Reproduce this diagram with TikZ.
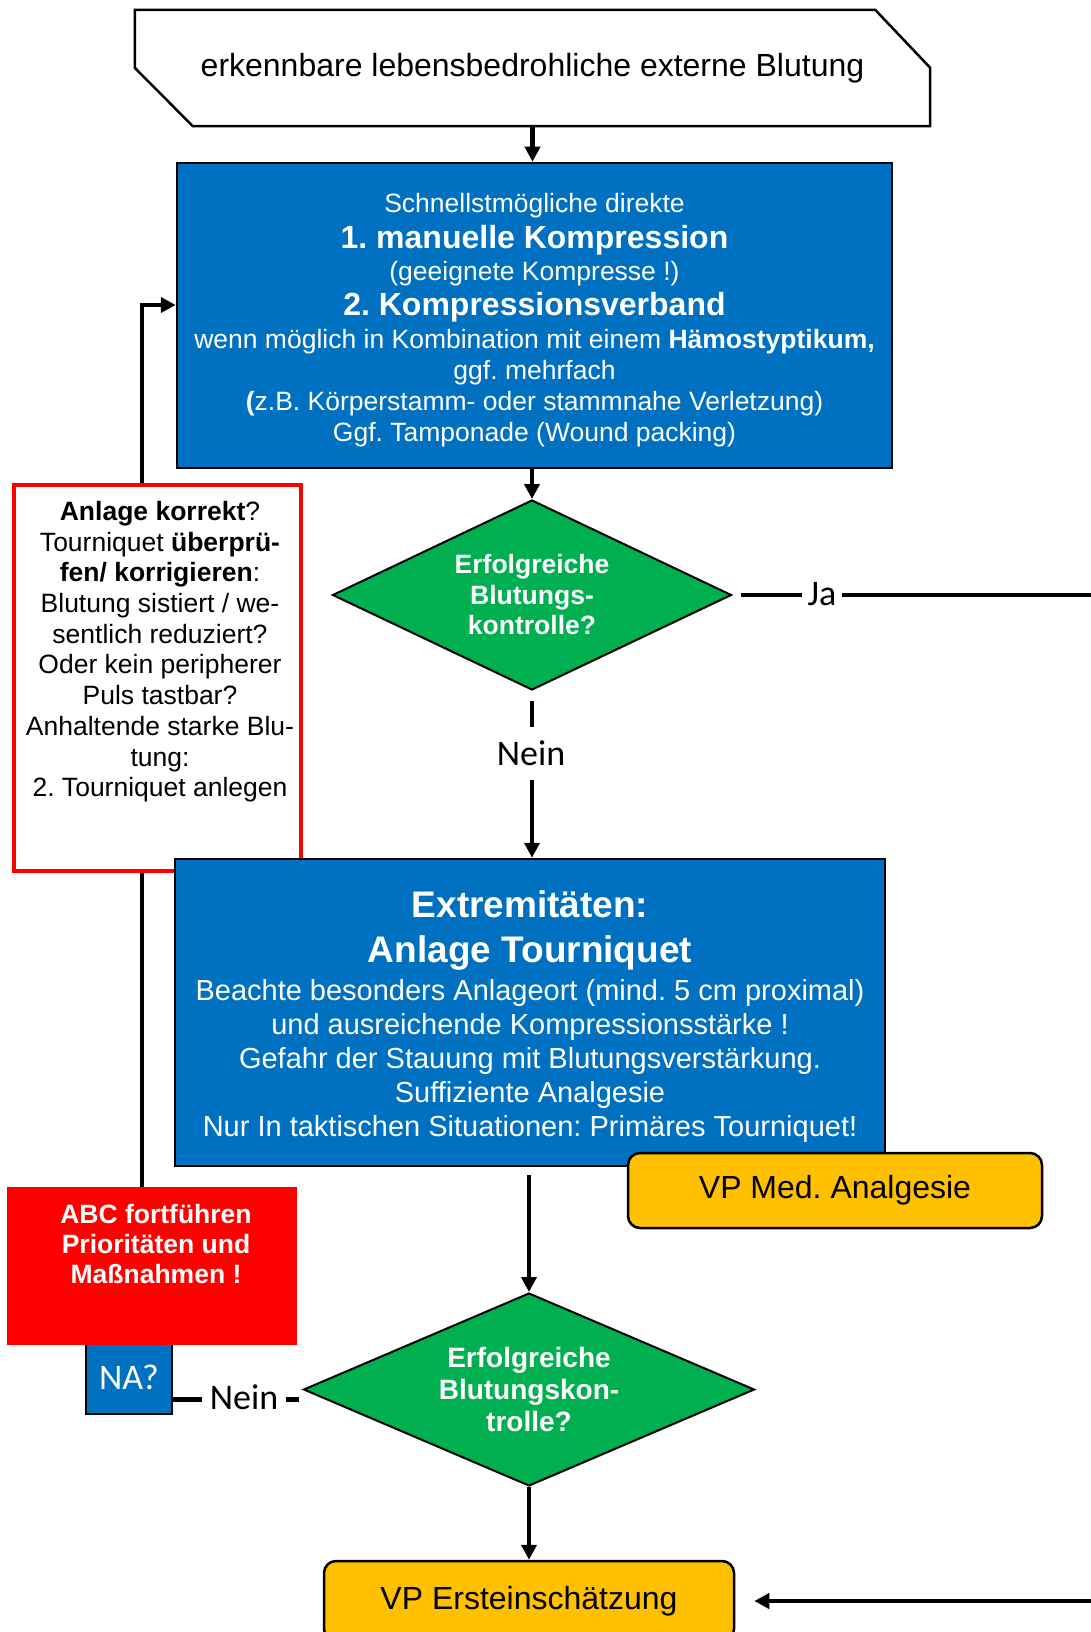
\documentclass[tikz,border=0pt]{standalone}
\usepackage{fontspec}
\setmainfont{Liberation Sans}
\newfontfamily\calfont{Carlito}
\usetikzlibrary{arrows.meta,calc,shapes.geometric}
\pgfdeclarelayer{bg}
\pgfsetlayers{bg,main}
\definecolor{pblue}{HTML}{0070C0}
\definecolor{pgreen}{HTML}{00B050}
\definecolor{pyellow}{HTML}{FFC000}
\definecolor{pred}{HTML}{FF0000}
\newcommand{\setfs}[2]{\fontsize{#1}{#2}\selectfont}
\frenchspacing
\tikzset{
  conn/.style={line width=4.5pt, -{Triangle[length=15pt,width=15pt]}},
  plainline/.style={line width=4.5pt},
  bluebox/.style={rectangle, draw=black, line width=2.5pt, fill=pblue, text=white, align=center, inner sep=0pt},
  boxtext/.style={text=white, align=center, inner sep=0pt},
  dec/.style={diamond, draw=black, line width=2pt, fill=pgreen, text=white, align=center, inner sep=0pt},
  vpbox/.style={rectangle, rounded corners=12pt, draw=black, line width=2.5pt, fill=pyellow, inner sep=0pt},
  lbl/.style={fill=white, font=\calfont\setfs{36}{40}, inner xsep=5pt, inner ysep=3pt},
}
\begin{document}
\begin{tikzpicture}[x=1pt,y=-1pt]
\useasboundingbox (0,0) rectangle (1090,1632);
\begin{pgfonlayer}{bg}
\fill[white] (0,0) rectangle (1090,1632);
\end{pgfonlayer}

% start shape
\node[font=\setfs{32}{37}, minimum width=795, minimum height=116, inner sep=0pt] (start) at (532.5,68) {erkennbare lebensbedrohliche externe Blutung};
\draw[line width=2.5pt] (start.north west) -- ($(start.north east)+(-55,0)$) -- ($(start.north east)+(0,58)$) -- (start.south east) -- ($(start.south west)+(58,0)$) -- ($(start.north west)+(0,58)$) -- cycle;

% first blue box
\node[bluebox, minimum width=715, minimum height=305] (box1) at (534.5,315.5) {};
\node[boxtext, font=\setfs{26.5}{31}] (box1text) at (534.5,320) {Schnellstmögliche direkte\\[5pt]
{\setfs{32}{31}\bfseries 1. manuelle Kompression}\\[1pt]
(geeignete Kompresse !)\\[4pt]
{\setfs{32}{31}\bfseries 2. Kompressionsverband}\\[2pt]
wenn möglich in Kombination mit einem \textbf{Hämostyptikum,}\\
ggf. mehrfach\\
\textbf{(}z.B. Körperstamm- oder stammnahe Verletzung)\\
Ggf. Tamponade (Wound packing)};

% first decision
\node[dec, aspect=2.1, minimum width=399, minimum height=190, font=\setfs{26.5}{30.5}\bfseries] (d1) at (532,595) {Erfolgreiche\\Blutungs-\\kontrolle?};

% red check box
\node[draw=pred, line width=3.5pt, fill=white, minimum width=287, minimum height=386, inner sep=0pt] (chk) at (157.5,678) {};
\node[anchor=north, align=center, font=\setfs{26.5}{30.7}, inner sep=0pt] (chktext) at (160,501) {\textbf{Anlage korrekt}?\\
Tourniquet \textbf{überprü-}\\
\textbf{fen/ korrigieren}:\\
Blutung sistiert / we-\\
sentlich reduziert?\\
Oder kein peripherer\\
Puls tastbar?\\
Anhaltende starke Blu-\\
tung:\\
2. Tourniquet anlegen};

% second blue box
\node[bluebox, minimum width=710, minimum height=307] (box2) at (530,1012.5) {};
\node[boxtext, font=\setfs{29}{34}] (box2text) at (530,1016.5) {{\setfs{37}{34}\bfseries Extremitäten:}\\[11pt]
{\setfs{37}{34}\bfseries Anlage Tourniquet}\\[4pt]
Beachte besonders Anlageort (mind. 5 cm proximal)\\
und ausreichende Kompressionsstärke !\\
Gefahr der Stauung mit Blutungsverstärkung.\\
Suffiziente Analgesie\\
Nur In taktischen Situationen: Primäres Tourniquet!};

\node[vpbox, minimum width=414, minimum height=75, font=\setfs{32}{36}] (vpm) at (835,1190.5) {\raisebox{-3pt}{VP Med. Analgesie}};

% NA and ABC
\node[fill=pblue, draw=black, line width=2pt, minimum width=86, minimum height=73, text=white, font=\calfont\setfs{36}{40}, inner sep=0pt] (na) at (129,1377) {NA?};
\node[fill=pred, minimum width=290, minimum height=158, inner sep=0pt] (abc) at (152,1266) {};
\node[anchor=north, align=center, text=white, font=\setfs{26.5}{30}\bfseries, inner sep=0pt] (abctext) at (156,1204) {ABC fortführen\\Prioritäten und\\Maßnahmen !};

% second decision
\node[dec, aspect=2.3, minimum width=451, minimum height=193, font=\setfs{28}{32}\bfseries] (d2) at (529,1389.5) {Erfolgreiche\\Blutungskon-\\trolle?};

% final box
\node[vpbox, minimum width=410, minimum height=80, font=\setfs{32}{36}] (vpe) at (529,1601) {VP Ersteinschätzung};

% helper coordinates
\coordinate (loopx) at (142,305);
\coordinate (far) at (1098,0);

% connectors
\draw[conn] (start.south) -- (start.south |- box1.north);
\draw[conn] (d1.north |- box1.south) -- (d1.north);
\draw[conn, shorten <=10pt] (d1.south) -- (d1.south |- box2.north);
\node[lbl, inner ysep=14pt] (nein1) at (531,753) {Nein};
\draw[conn, shorten <=8pt, shorten >=19pt] (d1.east) -- (d1.east -| far) |- (vpe.east);
\node[lbl, inner xsep=6pt] (ja) at (822,594) {Ja};
\draw[conn, shorten <=8pt] (d2.north |- box2.south) -- (d2.north);
\draw[conn] (d2.south) -- (vpe.north);
\draw[plainline, shorten <=4pt] ([yshift=-10pt]d2.west) -- ([yshift=-10pt]d2.west -| na.east);
\node[lbl, inner xsep=8pt] (nein2) at (244,1397) {Nein};
\begin{pgfonlayer}{bg}
\draw[conn] (loopx |- abc.north) -- (loopx) -- (loopx -| box1.west);
\end{pgfonlayer}
\end{tikzpicture}
\end{document}
